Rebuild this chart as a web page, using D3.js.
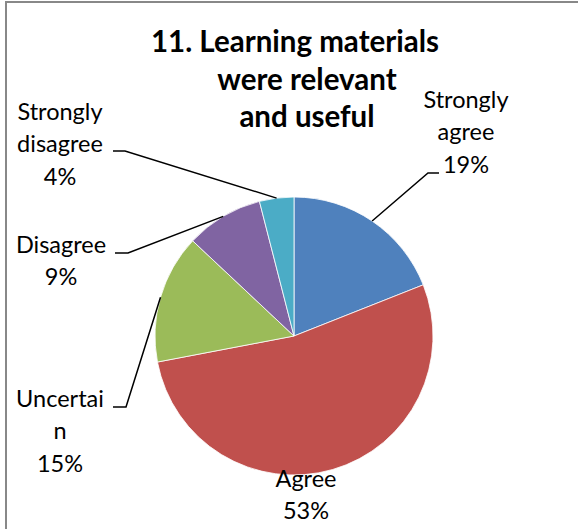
<!DOCTYPE html>
<html><head><meta charset="utf-8">
<script src="https://cdn.jsdelivr.net/npm/d3@7"></script>
<style>html,body{margin:0;padding:0;background:#fff;}</style>
</head><body>
<svg id="chart" width="578" height="529"></svg>
<script>
const categories = ["Strongly agree", "Agree", "Uncertain", "Disagree", "Strongly disagree"];
const values = [19, 53, 15, 9, 4];
const labelLines = [["Strongly", "agree", "19%"], ["Agree", "53%"], ["Uncertai", "n", "15%"], ["Disagree", "9%"], ["Strongly", "disagree", "4%"]];
const colors = ["#4F81BD", "#C0504D", "#9BBB59", "#8064A2", "#4BACC6"];
const titleLines = ["11. Learning materials", "were relevant", "and useful"];

// layout (not data)
const cx = 294, cy = 336, R = 139;
const labelLayout = [
  {x: 466, y: 108, stub: [439, 428, 173], leader: true},
  {x: 306, y: 487, leader: false},
  {x: 60, y: 407, stub: [113, 126, 407], leader: true},
  {x: 61, y: 253, stub: [115, 128, 253], leader: true},
  {x: 60, y: 120, stub: [113, 125, 151], leader: true}
];
const titleLayout = [{x: 295, y: 52}, {x: 307, y: 90}, {x: 307, y: 127}];

const svg = d3.select("#chart");
// frame
svg.append("line").attr("x1", 6).attr("x2", 6).attr("y1", 1).attr("y2", 529).attr("stroke", "#888").attr("stroke-width", 2);
svg.append("line").attr("x1", 5).attr("x2", 578).attr("y1", 2).attr("y2", 2).attr("stroke", "#888").attr("stroke-width", 2);

const data = categories.map((c, i) => ({cat: c, value: values[i], i}));
const pie = d3.pie().sort(null).value(d => d.value);
const arcs = pie(data);
const arc = d3.arc().innerRadius(0).outerRadius(R);
const g = svg.append("g").attr("transform", `translate(${cx},${cy})`);
g.selectAll("path").data(arcs).join("path")
  .attr("d", arc).attr("fill", d => colors[d.data.i])
  .attr("stroke", "#fff").attr("stroke-width", 0.8);

// leader lines
arcs.forEach((a, i) => {
  const L = labelLayout[i];
  if (!L.leader) return;
  const mid = (a.startAngle + a.endAngle) / 2;
  const ex = cx + R * Math.sin(mid), ey = cy - R * Math.cos(mid);
  const [x1, x2, y] = L.stub;
  svg.append("path")
    .attr("d", `M${x1},${y}L${x2},${y}L${ex},${ey}`)
    .attr("fill", "none").attr("stroke", "#000").attr("stroke-width", 1.5);
});

// labels
arcs.forEach((a, i) => {
  const L = labelLayout[i];
  const t = svg.append("text").attr("text-anchor", "middle")
    .attr("font-family", "Lato, sans-serif").attr("font-size", 23.5).attr("fill", "#000");
  labelLines[i].forEach((ln, k) => {
    t.append("tspan").attr("x", L.x).attr("y", L.y + k * 32.3).text(ln);
  });
});

// title
titleLines.forEach((ln, k) => {
  svg.append("text").attr("x", titleLayout[k].x).attr("y", titleLayout[k].y)
    .attr("text-anchor", "middle").attr("font-family", "Lato, sans-serif")
    .attr("font-weight", "bold").attr("font-size", 29.5).attr("fill", "#000").text(ln);
});
</script>
</body></html>
